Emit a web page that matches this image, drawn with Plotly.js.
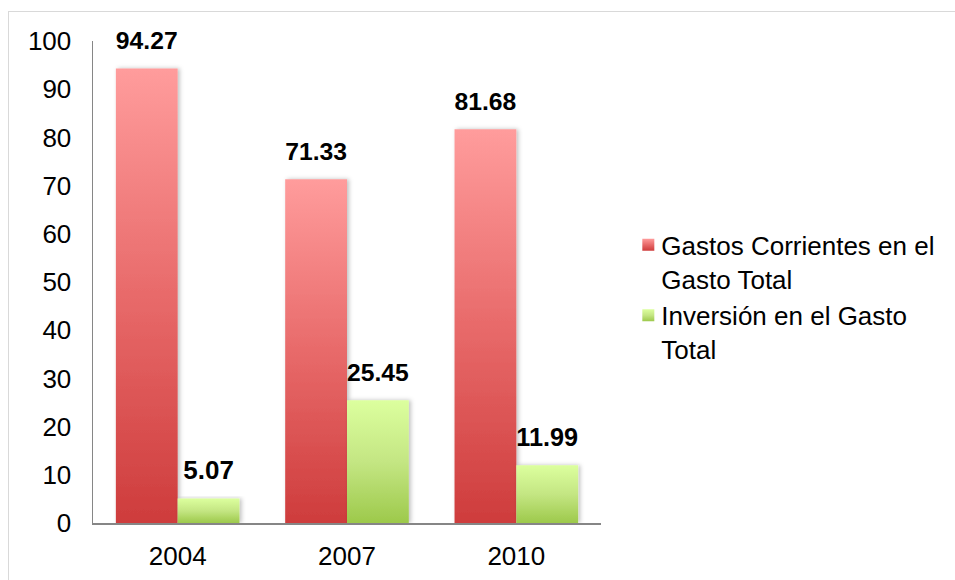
<!DOCTYPE html>
<html>
<head>
<meta charset="utf-8">
<script src="https://cdn.plot.ly/plotly-3.0.1.min.js"></script>
<style>
  html, body { margin: 0; padding: 0; background: #fff; overflow: hidden; }
  #frame { position: absolute; left: 8px; top: 11px; width: 1000px; height: 600px; border-left: 1px solid #d9d9d9; border-top: 1px solid #d9d9d9; pointer-events: none; }
  #chart { position: absolute; left: 0; top: 0; width: 955px; height: 580px; }
</style>
</head>
<body>
<div id="chart"></div>
<div id="frame"></div>
<script>
const categories = ['2004', '2007', '2010'];
const gastosCorrientes = [94.27, 71.33, 81.68];
const inversion = [5.07, 25.45, 11.99];
const seriesNames = ['Gastos Corrientes en el<br>Gasto Total', 'Inversión en el Gasto<br>Total'];
const yTicks = [0, 10, 20, 30, 40, 50, 60, 70, 80, 90, 100];

const FONT = 'Liberation Sans, Arial, sans-serif';
const labelFont = { family: FONT, size: 26, color: '#000000', weight: 'bold' };

const traces = [
  {
    type: 'bar', name: seriesNames[0], x: categories, y: gastosCorrientes,
    marker: { color: '#E06464', line: { width: 0 } },
    texttemplate: '%{y:.2f}', textposition: 'outside', textfont: labelFont,
    cliponaxis: false, hoverinfo: 'skip'
  },
  {
    type: 'bar', name: seriesNames[1], x: categories, y: inversion,
    marker: { color: '#BEE37A', line: { width: 0 } },
    texttemplate: '%{y:.2f}', textposition: 'outside', textfont: labelFont,
    cliponaxis: false, hoverinfo: 'skip'
  }
];

const layout = {
  width: 955, height: 580,
  margin: { l: 93, r: 354, t: 41, b: 57 },
  paper_bgcolor: 'rgba(0,0,0,0)', plot_bgcolor: 'rgba(0,0,0,0)',
  barmode: 'group', bargap: 0.27, bargroupgap: 0,
  showlegend: true,
  font: { family: FONT, size: 26, color: '#000000' },
  xaxis: {
    type: 'category', showgrid: false, zeroline: false,
    showline: true, linecolor: '#868686', linewidth: 1.5,
    ticks: '', ticklabelstandoff: 9,
    tickfont: { family: FONT, size: 26, color: '#000000' }
  },
  yaxis: {
    range: [0, 100], tickvals: yTicks, showgrid: false, zeroline: false,
    showline: true, linecolor: '#868686', linewidth: 1.5,
    ticks: '', ticklabelstandoff: 15,
    tickfont: { family: FONT, size: 26, color: '#000000' }
  },
  legend: {
    x: 1.04, xanchor: 'left', y: 0.626, yanchor: 'top',
    valign: 'top', tracegroupgap: 16,
    font: { family: FONT, size: 26, color: '#000000' },
    bgcolor: 'rgba(0,0,0,0)'
  }
};

function addGradients(gd) {
  const svg = gd.querySelector('.main-svg');
  const ns = 'http://www.w3.org/2000/svg';
  let defs = svg.querySelector('defs');
  if (!defs) { defs = document.createElementNS(ns, 'defs'); svg.insertBefore(defs, svg.firstChild); }
  function grad(id, top, mid, bottom) {
    const g = document.createElementNS(ns, 'linearGradient');
    g.setAttribute('id', id);
    g.setAttribute('x1', '0'); g.setAttribute('y1', '0');
    g.setAttribute('x2', '0'); g.setAttribute('y2', '1');
    [[0, top], [0.5, mid], [1, bottom]].forEach(([o, c]) => {
      const s = document.createElementNS(ns, 'stop');
      s.setAttribute('offset', o); s.setAttribute('stop-color', c);
      g.appendChild(s);
    });
    defs.appendChild(g);
  }
  grad('gradRed', '#FF9C9C', '#E86A6A', '#CE3C3C');
  grad('gradGreen', '#DCFF9E', '#C4E683', '#9DC94B');
  const f = document.createElementNS(ns, 'filter');
  f.setAttribute('id', 'barShadow');
  f.setAttribute('x', '-20%'); f.setAttribute('y', '-10%');
  f.setAttribute('width', '140%'); f.setAttribute('height', '120%');
  const ds = document.createElementNS(ns, 'feDropShadow');
  ds.setAttribute('dx', '2'); ds.setAttribute('dy', '0');
  ds.setAttribute('stdDeviation', '2'); ds.setAttribute('flood-color', '#000');
  ds.setAttribute('flood-opacity', '0.25');
  f.appendChild(ds); defs.appendChild(f);

  const ids = ['gradRed', 'gradGreen'];
  gd.querySelectorAll('.barlayer .trace').forEach((tr, i) => {
    tr.querySelectorAll('.point path').forEach(p => {
      p.style.fill = 'url(#' + ids[i] + ')';
      p.setAttribute('filter', 'url(#barShadow)');
    });
    tr.querySelectorAll('text.bartext').forEach(t => {
      const tf = t.getAttribute('transform') || '';
      t.setAttribute('transform', tf + ' translate(0,-11)');
    });
  });
  gd.querySelectorAll('.legend .traces').forEach((tr, i) => {
    tr.querySelectorAll('.legendpoints path').forEach(p => {
      p.style.fill = 'url(#' + ids[i] + ')';
      p.style.stroke = 'none';
    });
    const lp = tr.querySelector('.legendpoints');
    if (lp) lp.setAttribute('transform', (lp.getAttribute('transform') || '') + ' translate(7,0)');
  });
}

const gd = document.getElementById('chart');
Plotly.newPlot(gd, traces, layout, { staticPlot: true, displayModeBar: false }).then(() => addGradients(gd));
</script>
</body>
</html>
